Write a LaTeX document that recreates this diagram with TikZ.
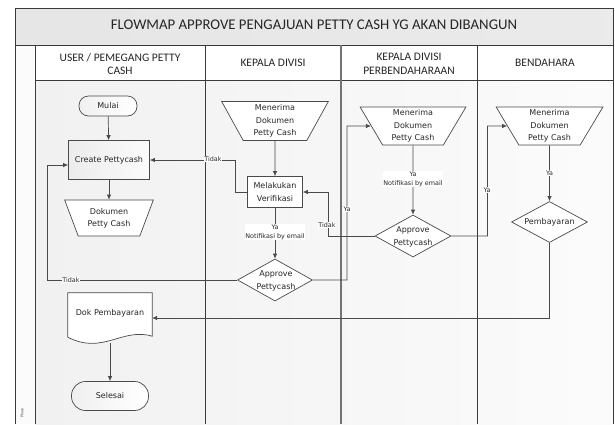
\documentclass[tikz,border=0pt]{standalone}
\usepackage{fontspec}
\setmainfont{Carlito}
\newfontfamily\nodefont{DejaVu Sans}
\usetikzlibrary{shapes.geometric,arrows.meta,calc}
\definecolor{lnc}{HTML}{4A4A4A}
\definecolor{frm}{HTML}{3A3A3A}
\definecolor{bgl}{HTML}{F1F1F1}
\begin{document}
\begin{tikzpicture}[x=1pt,y=-1pt,
  conn/.style={draw=lnc,line width=0.7pt,-{Latex[length=5pt,width=4.5pt]}},
  nd/.style={draw=lnc,line width=0.7pt},
  ntext/.style={font=\nodefont\fontsize{8}{12.4}\selectfont,align=center,inner sep=0pt,text=black!85},
  lbl/.style={font=\nodefont\fontsize{6.4}{9}\selectfont,align=center,fill=white,inner sep=0.6pt,text=black!85},
  hdr/.style={font=\fontsize{11.5}{13.5}\selectfont,align=center,text=black!85},
  term/.style={nd,rounded corners=9.5pt,left color=gray!12,right color=white},
  proc/.style={nd,rectangle,left color=gray!15,right color=white!97!gray},
  manual/.style={nd,ntext,trapezium,trapezium stretches=true,shape border rotate=180,fill=white,inner sep=0pt},
  dec/.style={nd,diamond,fill=white,inner sep=0pt}
]
\useasboundingbox (0,0) rectangle (615,424);
% backgrounds
\fill[white] (0,0) rectangle (615,424);
\shade[left color=bgl,right color=white!97!gray] (35,80) rectangle (613,424);
\fill[white!97!gray] (15,45) rectangle (35,424);
\shade[left color=gray!20,middle color=white!96!gray,right color=gray!16] (15,8) rectangle (613,45);
% frame and lanes
\draw[frm,line width=0.8pt] (15,424) -- (15,8) -- (613,8) -- (613,424);
\draw[frm,line width=0.8pt] (15,45) -- (613,45);
\draw[frm,line width=0.8pt] (35,80) -- (613,80);
\draw[frm,line width=0.8pt] (35,45) -- (35,424);
\draw[frm,line width=0.8pt] (205,45) -- (205,424);
\draw[gray!90!black,line width=1.1pt] (341,45) -- (341,424);
\draw[frm,line width=0.8pt] (477,45) -- (477,424);
% titles
\node[font=\fontsize{14.8}{17}\selectfont,text=black!85] (title) at (314,25) {FLOWMAP APPROVE PENGAJUAN PETTY CASH YG AKAN DIBANGUN};
\node[hdr] (h1) at (120,64) {USER / PEMEGANG PETTY\\CASH};
\node[hdr] (h2) at (273,63) {KEPALA DIVISI};
\node[hdr] (h3) at (409,64) {KEPALA DIVISI\\PERBENDAHARAAN};
\node[hdr] (h4) at (545,63) {BENDAHARA};
\node[rotate=90,font=\fontsize{4}{4}\selectfont,text=black!70] (ph) at (22,413) {Phase};
% nodes
\node[term,minimum width=58,minimum height=20] (mulai) at (108,106) {};
\node[ntext] (mulait) at (mulai) {Mulai};
\node[proc,minimum width=81,minimum height=39] (create) at (109,160) {};
\node[ntext] (createt) at (create) {Create Pettycash};
\node[manual,trapezium angle=65,minimum width=89,minimum height=36] (dok1) at (109,218) {Dokumen\\Petty Cash};
\node[manual,trapezium angle=66,minimum width=107,minimum height=39] (mkd) at (275,121) {Menerima\\Dokumen\\Petty Cash};
\node[nd,rectangle,fill=white,minimum width=55,minimum height=31] (verif) at (275,192) {};
\node[ntext] (verift) at (verif) {Melakukan\\Verifikasi};
\node[dec,minimum width=75,minimum height=42] (apkd) at (275,280) {};
\node[ntext] (apkdt) at (276,281) {Approve\\Pettycash};
\node[manual,trapezium angle=64,minimum width=106,minimum height=38] (mkdp) at (413,126) {Menerima\\Dokumen\\Petty Cash};
\node[dec,minimum width=76,minimum height=42] (apkdp) at (413,236) {};
\node[ntext] (apkdpt) at (413,237) {Approve\\Pettycash};
\node[manual,trapezium angle=64,minimum width=107,minimum height=38] (mb) at (549.5,126) {Menerima\\Dokumen\\Petty Cash};
\node[dec,minimum width=76,minimum height=41] (pemb) at (549.5,222) {};
\node[ntext] (pembt) at (pemb) {Pembayaran};
\node[draw=none,minimum width=84,minimum height=50] (dokp) at (110,318) {};
\draw[nd,fill=white] (dokp.north west) -- (dokp.north east) -- ([yshift=7]dokp.south east)
  .. controls ([xshift=-30,yshift=16]dokp.south east) and ([xshift=35,yshift=-12]dokp.south west) .. ([yshift=6]dokp.south west) -- cycle;
\node[ntext] (dokpt) at (110,313) {Dok Pembayaran};
\node[term,minimum width=77,minimum height=29,rounded corners=14pt] (selesai) at (110,396) {};
\node[ntext] (selesait) at (selesai) {Selesai};
% connectors
\draw[conn] (mulai) -- (create);
\draw[conn] (create) -- (dok1);
\draw[conn] (mkd) -- (verif);
\draw[conn] (verif) -- (apkd);
\draw[conn] (verif.west) -- ++(-12,0) |- (create.east);
\draw[conn] (apkd.west) -| ([xshift=-21,yshift=-5]create.west) -- ([yshift=-5]create.west);
\draw[conn] (apkd.east) -| ([xshift=-66]mkdp.center) -- (mkdp);
\draw[conn] (mkdp) -- (apkdp);
\draw[conn] (apkdp.west) -| ([xshift=25]verif.east) -- (verif.east);
\draw[conn] (apkdp.east) -| ([xshift=-62]mb.center) -- (mb);
\draw[conn] (mb) -- (pemb);
\draw[conn] (pemb.south) |- (dokp.east);
\draw[conn] (dokp) -- (selesai);
% labels
\node[lbl] (l1) at (213,159) {Tidak};
\node[lbl] (l2) at (71,280) {Tidak};
\node[lbl] (l3) at (275,232) {Ya\\Notifikasi by email};
\node[lbl] (l4) at (327,225) {Tidak};
\node[lbl] (l5) at (347,209) {Ya};
\node[lbl] (l6) at (413,179) {Ya\\Notifikasi by email};
\node[lbl] (l7) at (487,190) {Ya};
\node[lbl] (l8) at (549.5,173) {Ya};
\end{tikzpicture}
\end{document}
